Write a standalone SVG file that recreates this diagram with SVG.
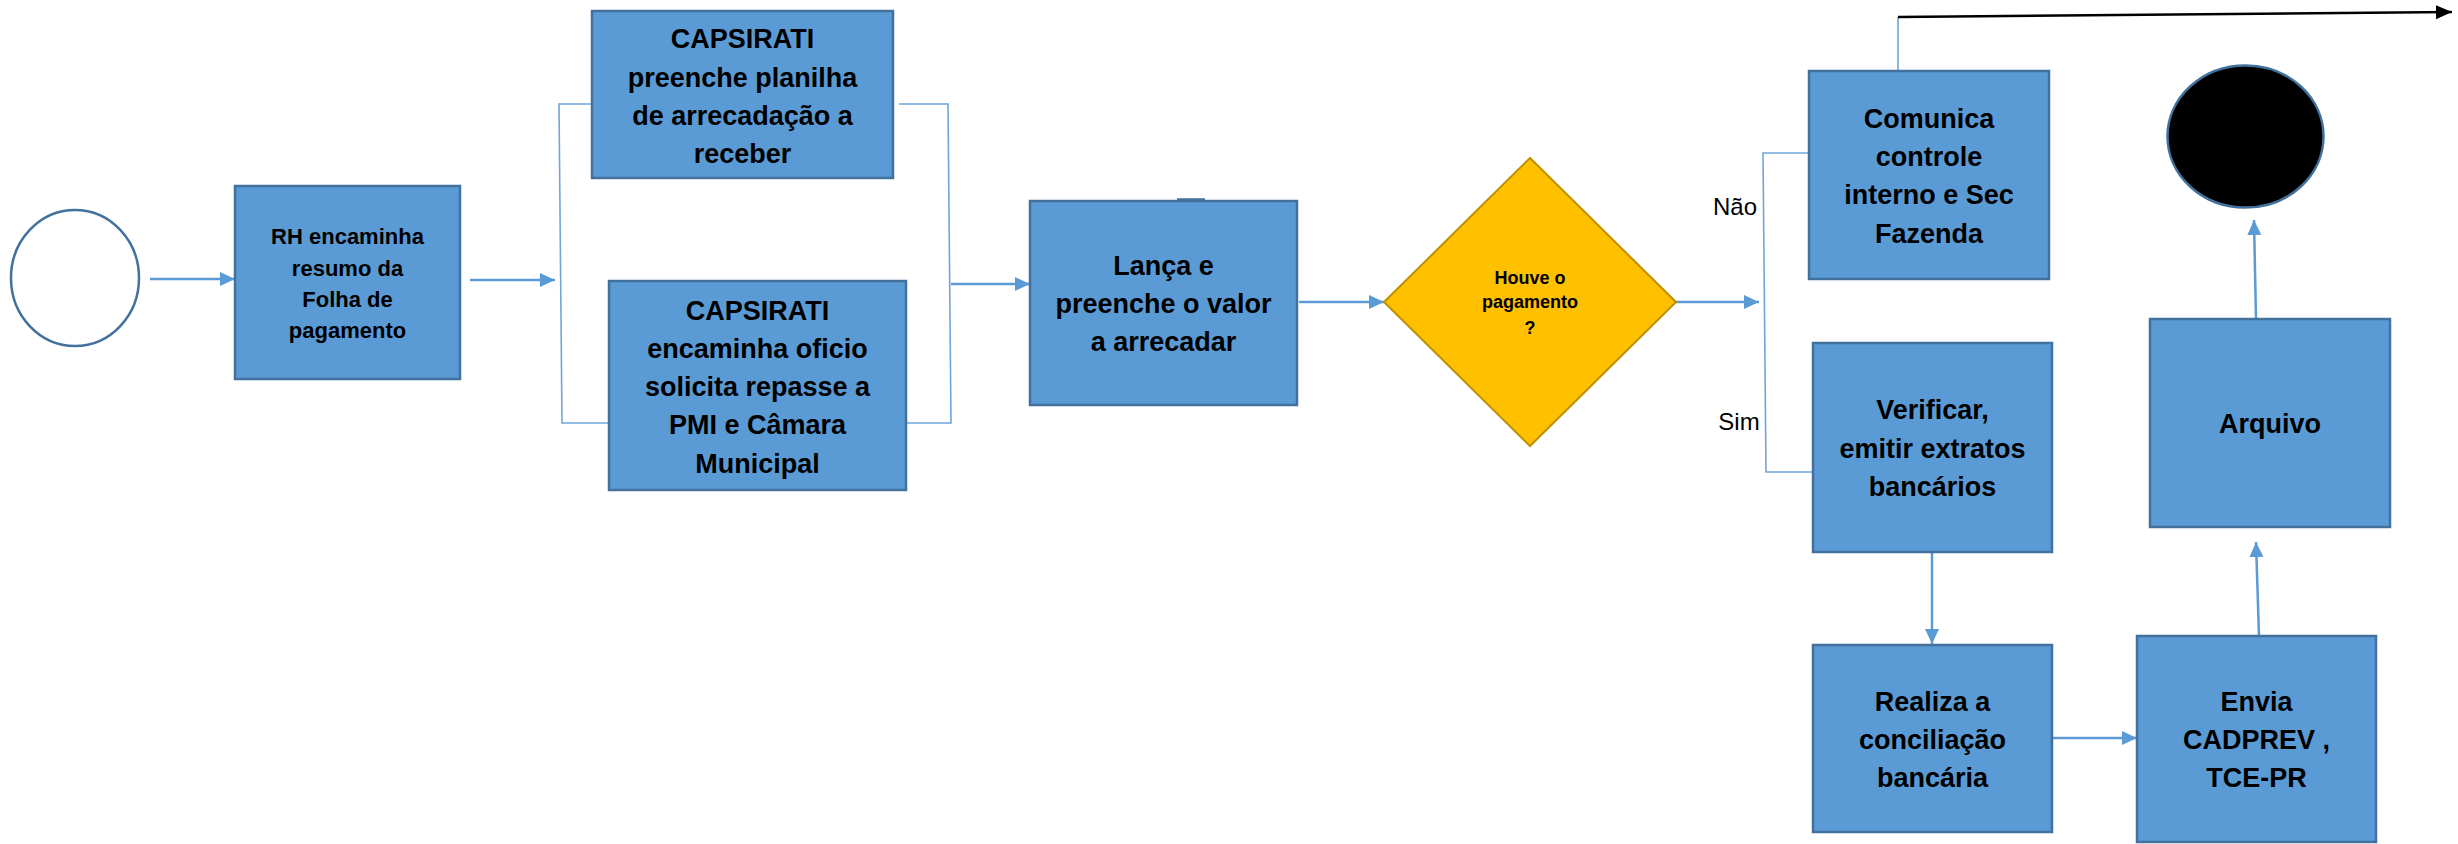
<svg xmlns="http://www.w3.org/2000/svg" width="2458" height="844" viewBox="0 0 2458 844">
<style>
.box{fill:#5B9BD5;stroke:#41719C;stroke-width:2.5}
.t{font-family:"Liberation Sans",Arial,sans-serif;font-weight:bold;font-size:27px;fill:#000;text-anchor:middle}
.ts{font-size:22px}
.td{font-size:18px}
.lbl{font-family:"Liberation Sans",Arial,sans-serif;font-size:24px;fill:#000;text-anchor:middle}
.c{fill:none;stroke:#5B9BD5;stroke-width:2.5}
.thin{fill:none;stroke:#6FA6DA;stroke-width:1.6}
</style>
<defs>
<marker id="ab" markerUnits="userSpaceOnUse" markerWidth="16" markerHeight="16" refX="15" refY="7" orient="auto">
<path d="M0,0 L15,7 L0,14 z" fill="#5B9BD5"/>
</marker>
<marker id="ak" markerUnits="userSpaceOnUse" markerWidth="18" markerHeight="16" refX="16" refY="7" orient="auto">
<path d="M0,0 L16,7 L0,14 z" fill="#000"/>
</marker>
</defs>
<rect width="2458" height="844" fill="#fff"/>

<g id="connectors">
<line class="c" x1="150" y1="279" x2="235" y2="279" marker-end="url(#ab)"/>
<line class="c" x1="470" y1="280" x2="555" y2="280" marker-end="url(#ab)"/>
<polyline class="thin" points="592,104 559,104 562,423 609,423"/>
<polyline class="thin" points="899,104 948,104 951,423 906,423"/>
<line class="c" x1="951" y1="284" x2="1030" y2="284" marker-end="url(#ab)"/>
<line class="c" x1="1299" y1="302" x2="1384" y2="302" marker-end="url(#ab)"/>
<line class="c" x1="1676" y1="302" x2="1759" y2="302" marker-end="url(#ab)"/>
<polyline class="thin" points="1809,153 1763,153 1766,472 1813,472"/>
<polyline class="thin" points="1898,71 1898,17"/>
<line x1="1898" y1="17" x2="2452" y2="12" stroke="#000" stroke-width="2.5" marker-end="url(#ak)"/>
<line class="c" x1="1932" y1="552" x2="1932" y2="644" marker-end="url(#ab)"/>
<line class="c" x1="2052" y1="738" x2="2137" y2="738" marker-end="url(#ab)"/>
<line class="c" x1="2259" y1="636" x2="2256" y2="542" marker-end="url(#ab)"/>
<line class="c" x1="2256" y1="319" x2="2254" y2="220" marker-end="url(#ab)"/>
</g>

<g id="start">
<ellipse cx="75" cy="278" rx="64" ry="68" fill="#fff" stroke="#41719C" stroke-width="2.5"/>
</g>

<g id="rh">
<rect class="box" x="235" y="186" width="225" height="193"/>
<text class="t ts" x="347.5" y="244">RH encaminha</text>
<text class="t ts" x="347.5" y="276">resumo da</text>
<text class="t ts" x="347.5" y="307">Folha de</text>
<text class="t ts" x="347.5" y="338">pagamento</text>
</g>

<g id="capsirati1">
<rect class="box" x="592" y="11" width="301" height="167"/>
<text class="t" x="742.5" y="48">CAPSIRATI</text>
<text class="t" x="742.5" y="86.5">preenche planilha</text>
<text class="t" x="742.5" y="124.5">de arrecadação a</text>
<text class="t" x="742.5" y="162.5">receber</text>
</g>

<g id="capsirati2">
<rect class="box" x="609" y="281" width="297" height="209"/>
<text class="t" x="757.5" y="319.5">CAPSIRATI</text>
<text class="t" x="757.5" y="357.8">encaminha oficio</text>
<text class="t" x="757.5" y="396.1">solicita repasse a</text>
<text class="t" x="757.5" y="434.4">PMI e Câmara</text>
<text class="t" x="757.5" y="472.7">Municipal</text>
</g>

<g id="lanca">
<rect class="box" x="1030" y="201" width="267" height="204"/>
<line x1="1177" y1="199.5" x2="1205" y2="199.5" stroke="#41719C" stroke-width="2.5"/>
<text class="t" x="1163.5" y="275">Lança e</text>
<text class="t" x="1163.5" y="313">preenche o valor</text>
<text class="t" x="1163.5" y="351">a arrecadar</text>
</g>

<g id="decisao">
<polygon points="1530,158 1676,302 1530,446 1384,302" fill="#FFC000" stroke="#BF9000" stroke-width="2"/>
<text class="t td" x="1530" y="284">Houve o</text>
<text class="t td" x="1530" y="308">pagamento</text>
<text class="t td" x="1530" y="334">?</text>
</g>

<g id="labels">
<text class="lbl" x="1735" y="215">Não</text>
<text class="lbl" x="1739" y="430">Sim</text>
</g>

<g id="comunica">
<rect class="box" x="1809" y="71" width="240" height="208"/>
<text class="t" x="1929" y="128">Comunica</text>
<text class="t" x="1929" y="166">controle</text>
<text class="t" x="1929" y="204">interno e Sec</text>
<text class="t" x="1929" y="243">Fazenda</text>
</g>

<g id="verificar">
<rect class="box" x="1813" y="343" width="239" height="209"/>
<text class="t" x="1932.5" y="419">Verificar,</text>
<text class="t" x="1932.5" y="458">emitir extratos</text>
<text class="t" x="1932.5" y="496">bancários</text>
</g>

<g id="realiza">
<rect class="box" x="1813" y="645" width="239" height="187"/>
<text class="t" x="1932.5" y="711">Realiza a</text>
<text class="t" x="1932.5" y="749">conciliação</text>
<text class="t" x="1932.5" y="787">bancária</text>
</g>

<g id="envia">
<rect class="box" x="2137" y="636" width="239" height="206"/>
<text class="t" x="2256.5" y="711">Envia</text>
<text class="t" x="2256.5" y="749">CADPREV ,</text>
<text class="t" x="2256.5" y="787">TCE-PR</text>
</g>

<g id="arquivo">
<rect class="box" x="2150" y="319" width="240" height="208"/>
<text class="t" x="2270" y="433">Arquivo</text>
</g>

<g id="end">
<ellipse cx="2245.5" cy="136.5" rx="78" ry="71" fill="#000" stroke="#41719C" stroke-width="2.5"/>
</g>
</svg>
